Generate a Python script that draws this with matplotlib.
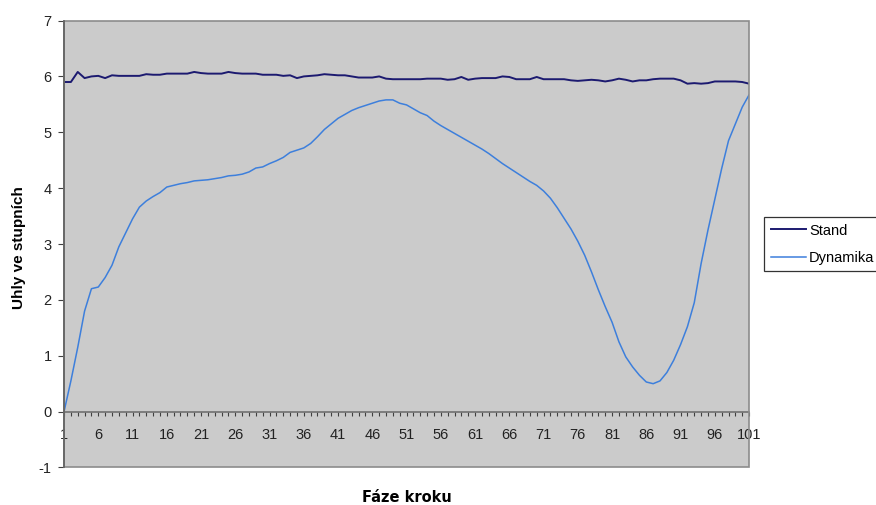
import matplotlib.pyplot as plt
from matplotlib.patches import Rectangle
from matplotlib.ticker import FixedLocator, FuncFormatter

plt.rcParams['axes.unicode_minus'] = False

# gait phase (step 1..101) and joint angle in degrees
faze = list(range(1, 102))

stand = [5.90, 5.90, 6.08, 5.97, 6.00, 6.01, 5.97, 6.02, 6.01, 6.01,
         6.01, 6.01, 6.04, 6.03, 6.03, 6.05, 6.05, 6.05, 6.05, 6.08,
         6.06, 6.05, 6.05, 6.05, 6.08, 6.06, 6.05, 6.05, 6.05, 6.03,
         6.03, 6.03, 6.01, 6.02, 5.97, 6.00, 6.01, 6.02, 6.04, 6.03,
         6.02, 6.02, 6.00, 5.98, 5.98, 5.98, 6.00, 5.96, 5.95, 5.95,
         5.95, 5.95, 5.95, 5.96, 5.96, 5.96, 5.94, 5.95, 5.99, 5.94,
         5.96, 5.97, 5.97, 5.97, 6.00, 5.99, 5.95, 5.95, 5.95, 5.99,
         5.95, 5.95, 5.95, 5.95, 5.93, 5.92, 5.93, 5.94, 5.93, 5.91,
         5.93, 5.96, 5.94, 5.91, 5.93, 5.93, 5.95, 5.96, 5.96, 5.96,
         5.93, 5.87, 5.88, 5.87, 5.88, 5.91, 5.91, 5.91, 5.91, 5.90,
         5.87]

dynamika = [0.00, 0.55, 1.15, 1.80, 2.20, 2.23, 2.40, 2.62, 2.95, 3.20,
            3.45, 3.66, 3.77, 3.85, 3.92, 4.02, 4.05, 4.08, 4.10, 4.13,
            4.14, 4.15, 4.17, 4.19, 4.22, 4.23, 4.25, 4.29, 4.36, 4.38,
            4.44, 4.49, 4.55, 4.64, 4.68, 4.72, 4.80, 4.92, 5.05, 5.15,
            5.25, 5.32, 5.39, 5.44, 5.48, 5.52, 5.56, 5.58, 5.58, 5.52,
            5.49, 5.42, 5.35, 5.30, 5.20, 5.12, 5.05, 4.98, 4.91, 4.84,
            4.77, 4.70, 4.62, 4.53, 4.44, 4.36, 4.28, 4.20, 4.12, 4.05,
            3.95, 3.82, 3.65, 3.46, 3.27, 3.05, 2.80, 2.50, 2.18, 1.88,
            1.60, 1.25, 0.98, 0.80, 0.65, 0.53, 0.50, 0.55, 0.70, 0.92,
            1.20, 1.52, 1.95, 2.65, 3.25, 3.80, 4.35, 4.85, 5.15, 5.45,
            5.67]

y_ticks = list(range(-1, 8))

fig = plt.figure(figsize=(8.76, 5.05), dpi=100)
ax = fig.add_axes([0.0731, 0.0743, 0.782, 0.885])
ax.set_facecolor('#cbcbcb')

ax.plot(faze, stand, color='#1c1a70', linewidth=1.4, label='Stand')
ax.plot(faze, dynamika, color='#3d7fdc', linewidth=1.1, label='Dynamika')

ax.set_xlim(1, 101)
ax.set_ylim(-1, 7)

# plot area frame
for side in ['top', 'right']:
    ax.spines[side].set_visible(False)
ax.add_patch(Rectangle((0, 0), 1, 1, transform=ax.transAxes, fill=False,
                       edgecolor='#8c8c8c', linewidth=1.2, zorder=5, clip_on=False))
ax.spines['left'].set_color('#606060')
ax.spines['left'].set_linewidth(1.2)
ax.spines['left'].set_zorder(6)

# category axis crosses at zero
ax.spines['bottom'].set_position(('data', 0))
ax.spines['bottom'].set_color('#707070')
ax.spines['bottom'].set_linewidth(1.2)
ax.xaxis.set_major_locator(FixedLocator(faze))
ax.xaxis.set_major_formatter(FuncFormatter(lambda v, p: str(int(v)) if (int(v) - 1) % 5 == 0 else ''))
ax.tick_params(axis='x', direction='out', length=3, width=0.8, color='#404040',
               pad=9, labelsize=10.5, labelcolor='#222222')

ax.set_yticks(y_ticks)
ax.tick_params(axis='y', direction='out', length=4, width=0.8, color='#404040',
               pad=5, labelsize=10.5, labelcolor='#222222')

for lbl in ax.get_xticklabels() + ax.get_yticklabels():
    lbl.set_fontfamily('Liberation Sans')

fig.text(0.022, 0.51, 'Uhly ve stupních', rotation=90, ha='center', va='center',
         fontsize=11, fontweight='bold', family='Liberation Sans')
fig.text(0.4646, 0.006, 'Fáze kroku', ha='center', va='baseline',
         fontsize=10.5, fontweight='bold', family='DejaVu Sans')

leg = fig.legend(loc='upper left', bbox_to_anchor=(764 / 876, 1 - 217 / 505),
                 borderaxespad=0, fancybox=False, frameon=True, handlelength=2.4,
                 handletextpad=0.25, borderpad=0.45, labelspacing=0.9,
                 prop={'family': 'Liberation Sans', 'size': 10.5})
leg.get_frame().set_edgecolor('#000000')
leg.get_frame().set_linewidth(0.9)

fig.savefig('out.png', dpi=100)
